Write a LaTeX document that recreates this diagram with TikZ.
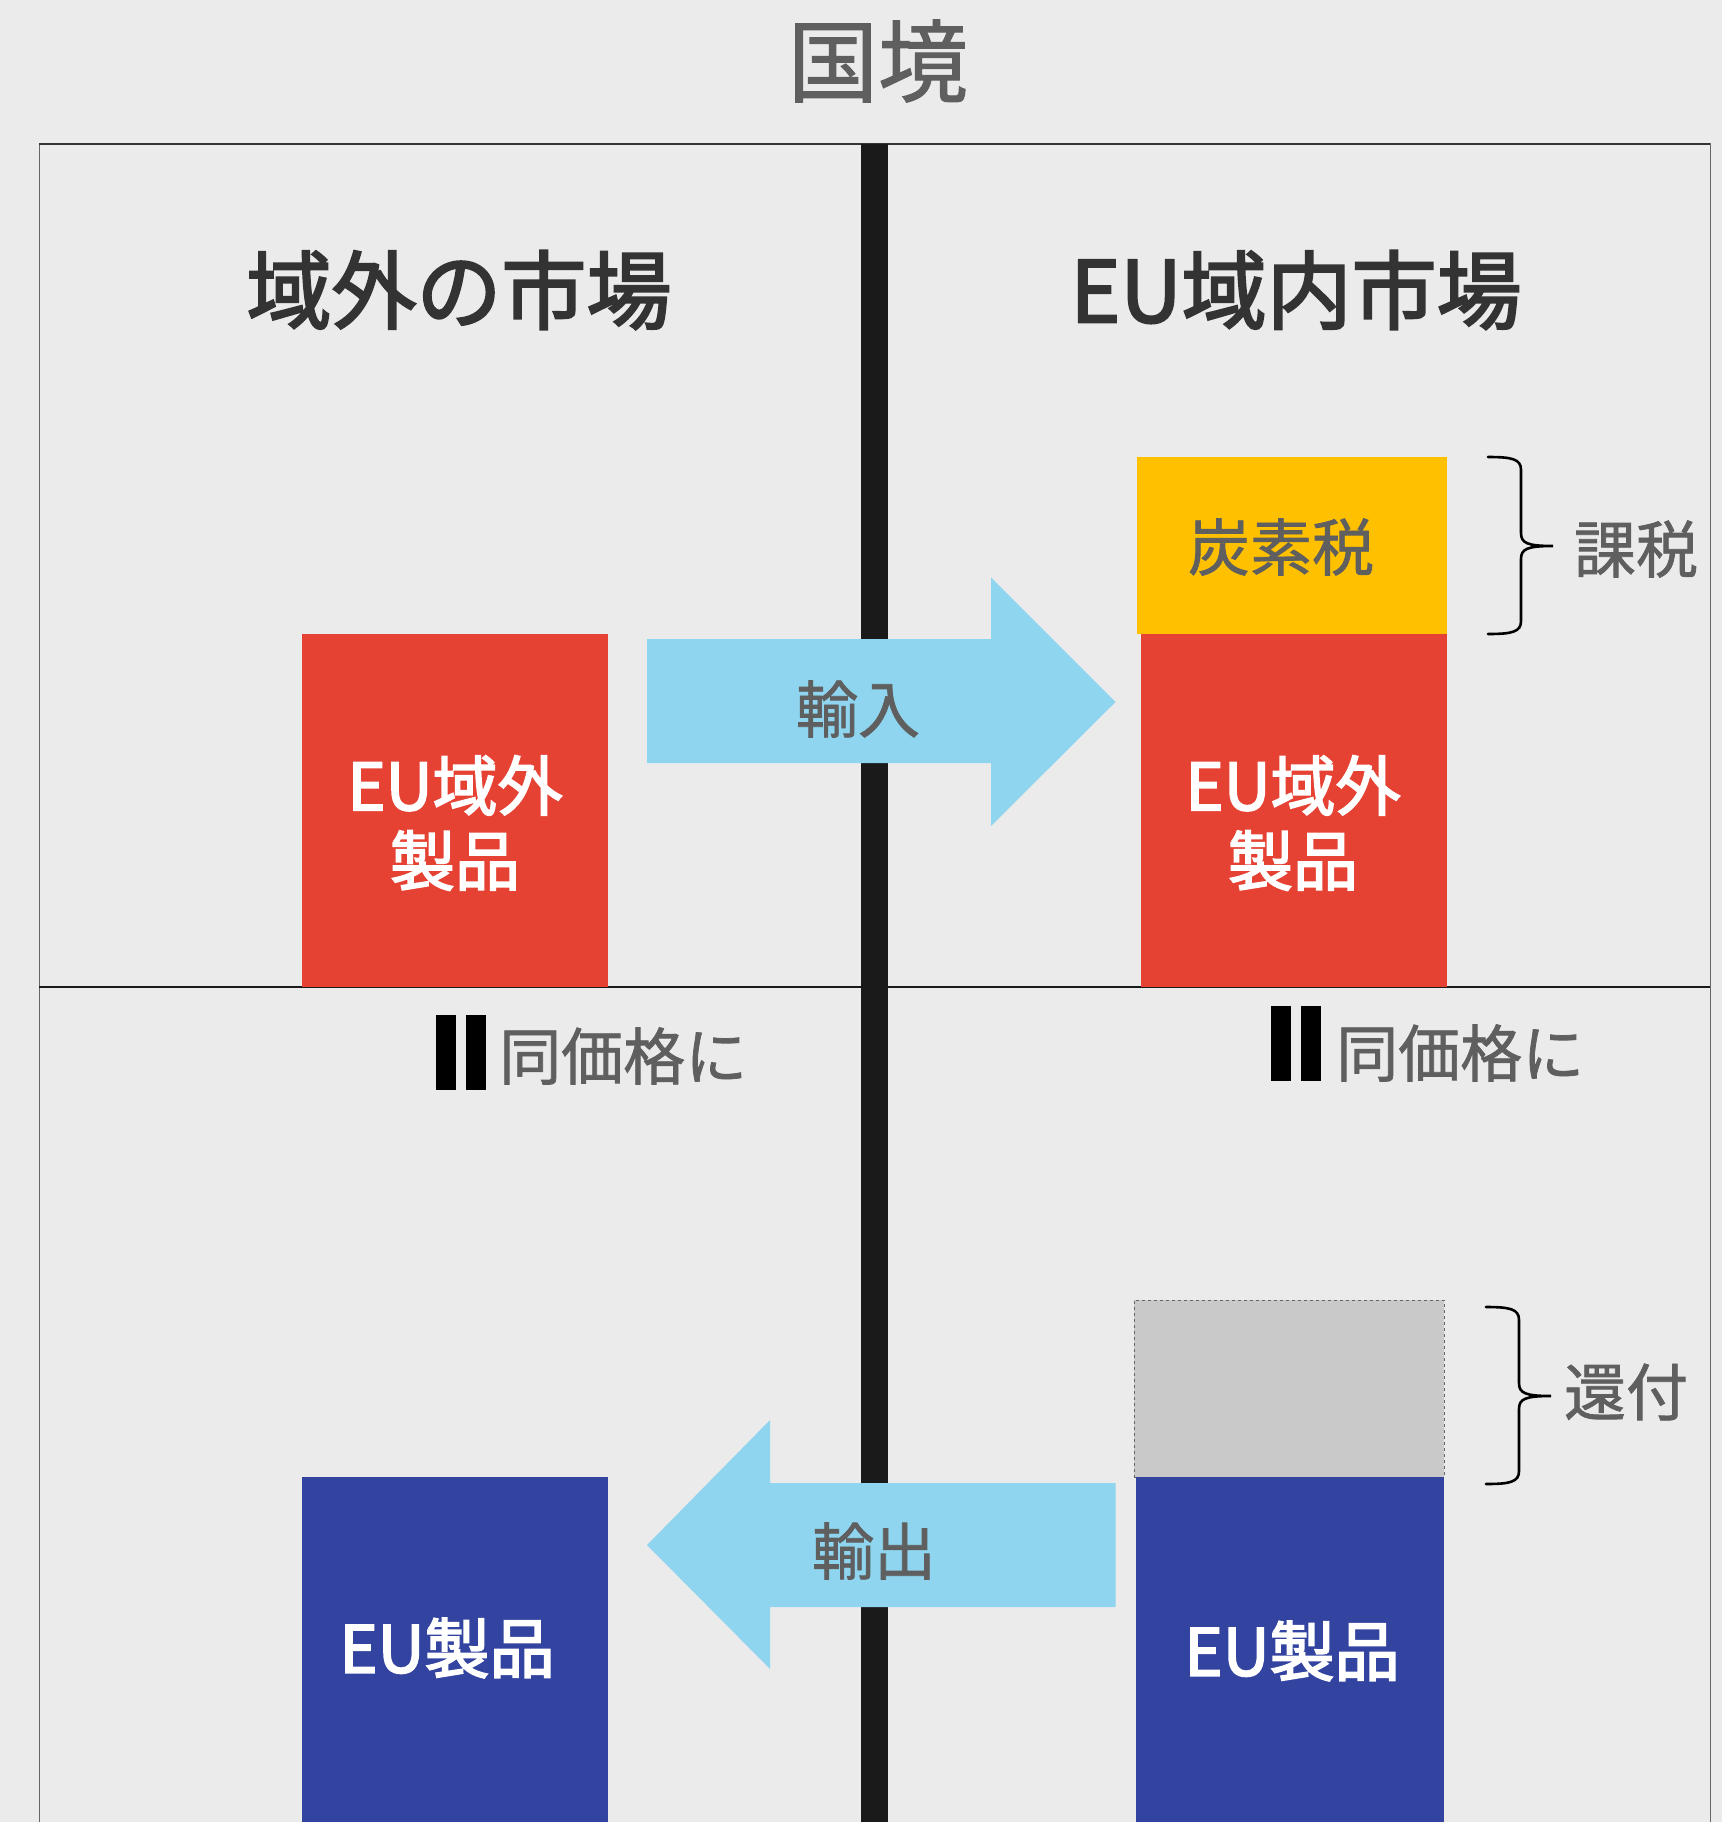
\documentclass[tikz,border=0pt]{standalone}
\usepackage{fontspec}
\setmainfont{Noto Sans CJK JP}
\newfontfamily\jpmed{Noto Sans CJK JP}[FakeBold=1.2]
\newfontfamily\jpsemi{Noto Sans CJK JP}[FakeBold=2.6]
\definecolor{bg}{HTML}{EBEBEB}
\definecolor{redbox}{HTML}{E64233}
\definecolor{yellowbox}{HTML}{FFC000}
\definecolor{bluebox}{HTML}{3243A0}
\definecolor{arrowblue}{HTML}{8FD5EF}
\definecolor{graybox}{HTML}{C9C9C9}
\definecolor{bar}{HTML}{1A1A1A}
\definecolor{graytext}{HTML}{5F5F5F}
\definecolor{darktext}{HTML}{333333}
\tikzset{
  block/.style={draw=none, inner sep=0pt, outer sep=0pt},
  gtext/.style={text=graytext, inner sep=0pt, font=\jpmed\fontsize{62}{70}\selectfont},
  wtext/.style={text=white, inner sep=0pt, align=center, font=\jpsemi\fontsize{65}{75}\selectfont},
  ttext/.style={text=darktext, inner sep=0pt, font=\jpsemi\fontsize{85}{95}\selectfont},
  bracestyle/.style={draw=black, line width=2.6pt, line cap=round},
}
\begin{document}
\begin{tikzpicture}[x=1pt,y=-1pt]
\useasboundingbox (0,0) rectangle (1722,1822);
\fill[bg] (0,0) rectangle (1722,1822);
% frame
\draw[gray!80!black, line width=1pt] (39,1822) -- (39,144) -- (1710,144) -- (1710,1822);
\draw[darktext, line width=1.6pt] (39,144) -- (1710,144);
\draw[bar, line width=2pt] (39,986.5) -- (1710,986.5);
% border bar
\fill[bar] (861,144) rectangle (888,1822);
% title
\node[text=graytext, inner sep=0pt, font=\jpmed\fontsize{90}{100}\selectfont] (title) at (878,61) {国境};
\node[ttext] (left) at (459,290) {域外の市場};
\node[ttext] (right) at (1296,290) {EU域内市場};
% top row boxes
\node[block, fill=redbox, minimum width=306pt, minimum height=352.5pt] (lred) at (455,810.25) {};
\node[block, fill=redbox, minimum width=306pt, minimum height=352.5pt] (rred) at (1294,810.25) {};
\node[block, fill=yellowbox, minimum width=310.5pt, minimum height=177pt] (yel) at (1291.75,545.5) {};
\node[wtext] (lredt) at (455,823) {EU域外\\製品};
\node[wtext] (rredt) at (1293,823) {EU域外\\製品};
\node[gtext] (tan) at (1281,547) {炭素税};
% import arrow
\fill[arrowblue] (647,639) -- (991,639) -- (991,577.5) -- (1115.5,702) -- (991,826) -- (991,763) -- (647,763) -- cycle;
\node[gtext] (imp) at (858,709) {輸入};
% brace tax
\coordinate (b1t) at (1488,457);
\coordinate (b1b) at (1488,634);
\draw[bracestyle] (b1t) .. controls (1512,457) and (1521,459) .. (1521,470) -- (1521,533) .. controls (1521,543) and (1527,546) .. (1553,546) .. controls (1527,546) and (1521,549) .. (1521,559) -- (1521,621) .. controls (1521,632) and (1512,634) .. (b1b);
\node[gtext] (kazei) at (1636,549) {課税};
% equal marks
\fill[black] (436,1015) rectangle (456,1090);
\fill[black] (466,1015) rectangle (486,1090);
\node[gtext, anchor=west] (eq1) at (499,1056) {同価格に};
\fill[black] (1271,1006) rectangle (1291,1081);
\fill[black] (1301,1006) rectangle (1321,1081);
\node[gtext, anchor=west] (eq2) at (1336,1053) {同価格に};
% bottom row
\node[block, fill=graybox, draw=gray!80!black, dashed, line width=0.8pt, minimum width=310pt, minimum height=177pt] (gray) at (1289,1388.5) {};
\node[block, fill=bluebox, minimum width=306pt, minimum height=345pt] (lblue) at (455,1649.5) {};
\node[block, fill=bluebox, minimum width=308pt, minimum height=345pt] (rblue) at (1290,1649.5) {};
\node[wtext] (lbluet) at (447,1648) {EU製品};
\node[wtext] (rbluet) at (1292,1651) {EU製品};
% export arrow
\fill[arrowblue] (1115.5,1483) -- (770,1483) -- (770,1420) -- (647,1545) -- (770,1669) -- (770,1607) -- (1115.5,1607) -- cycle;
\node[gtext] (exp) at (874,1551) {輸出};
% brace refund
\coordinate (b2t) at (1486,1307);
\coordinate (b2b) at (1486,1484);
\draw[bracestyle] (b2t) .. controls (1510,1307) and (1519,1309) .. (1519,1320) -- (1519,1383) .. controls (1519,1393) and (1525,1396) .. (1551,1396) .. controls (1525,1396) and (1519,1399) .. (1519,1409) -- (1519,1471) .. controls (1519,1482) and (1510,1484) .. (b2b);
\node[gtext] (kanpu) at (1626,1392) {還付};
\end{tikzpicture}
\end{document}
